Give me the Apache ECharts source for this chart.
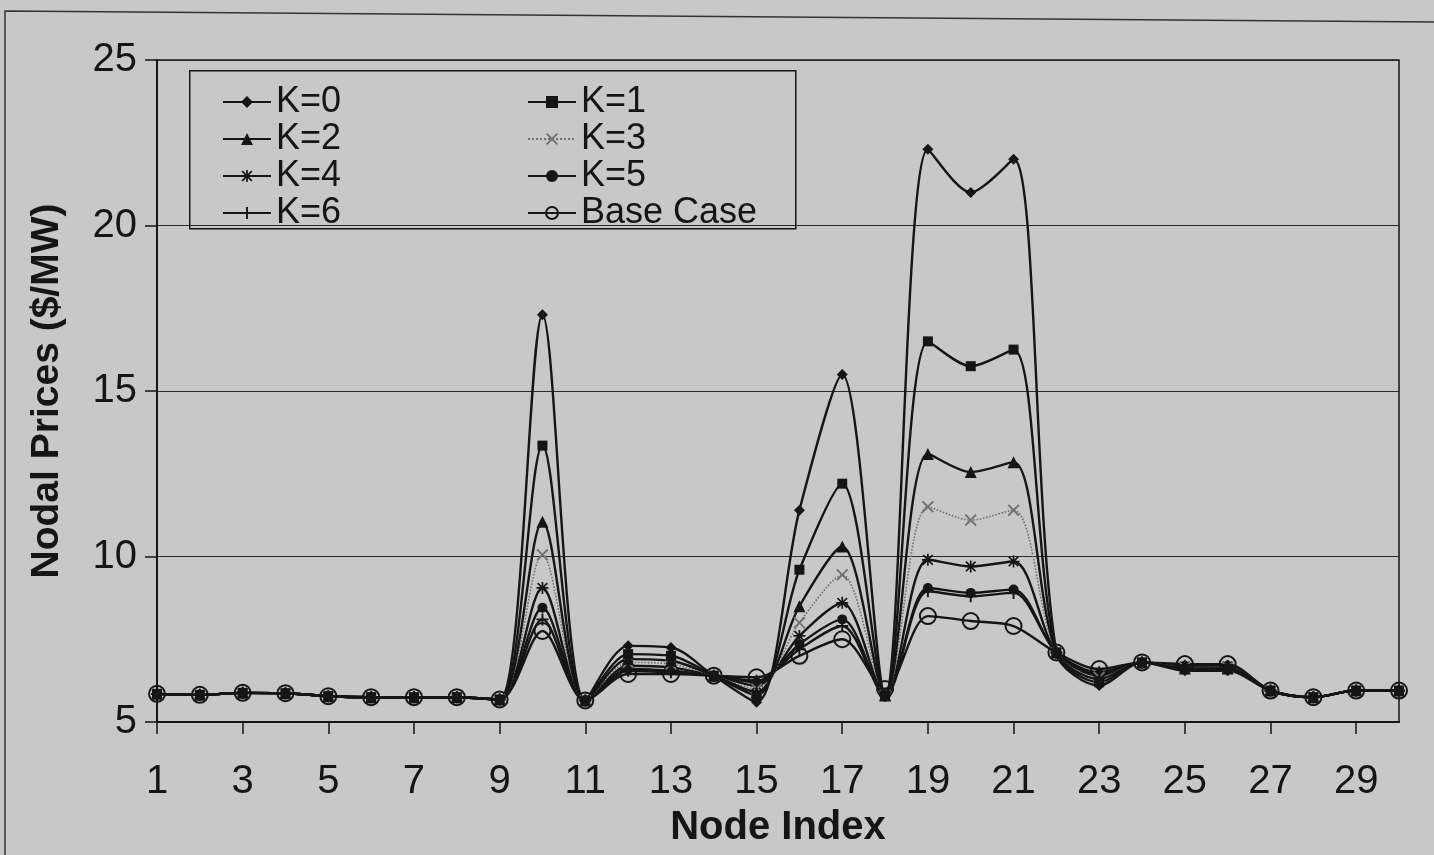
<!DOCTYPE html>
<html><head><meta charset="utf-8">
<script src="https://cdn.jsdelivr.net/npm/echarts@6/dist/echarts.min.js"></script>
<style>html,body{margin:0;padding:0;background:#c8c8c8;}#c{width:1434px;height:855px;}</style>
</head><body><div id="c"></div>
<script>
const nodes = ['1','2','3','4','5','6','7','8','9','10','11','12','13','14','15','16','17','18','19','20','21','22','23','24','25','26','27','28','29','30'];
const k0 = [5.85,5.82,5.88,5.87,5.78,5.75,5.75,5.75,5.68,17.3,5.65,7.3,7.25,6.4,5.6,11.4,15.5,5.8,22.3,21.0,22.0,7.1,6.1,6.8,6.55,6.55,5.95,5.75,5.95,5.95];
const k1 = [5.85,5.82,5.88,5.87,5.78,5.75,5.75,5.75,5.68,13.35,5.65,7.05,7.0,6.4,5.8,9.6,12.2,5.8,16.5,15.75,16.25,7.1,6.2,6.8,6.6,6.6,5.95,5.75,5.95,5.95];
const k2 = [5.85,5.82,5.88,5.87,5.78,5.75,5.75,5.75,5.68,11.05,5.65,6.9,6.85,6.4,5.9,8.5,10.3,5.8,13.1,12.55,12.85,7.1,6.3,6.8,6.62,6.62,5.95,5.75,5.95,5.95];
const k3 = [5.85,5.82,5.88,5.87,5.78,5.75,5.75,5.75,5.68,10.05,5.65,6.8,6.75,6.4,6.0,8.0,9.45,5.8,11.5,11.1,11.4,7.1,6.35,6.8,6.65,6.65,5.95,5.75,5.95,5.95];
const k4 = [5.85,5.82,5.88,5.87,5.78,5.75,5.75,5.75,5.68,9.05,5.65,6.7,6.65,6.4,6.1,7.6,8.6,5.8,9.9,9.7,9.85,7.1,6.4,6.8,6.68,6.68,5.95,5.75,5.95,5.95];
const k5 = [5.85,5.82,5.88,5.87,5.78,5.75,5.75,5.75,5.68,8.45,5.65,6.6,6.55,6.4,6.2,7.35,8.1,5.8,9.05,8.9,9.0,7.1,6.45,6.8,6.7,6.7,5.95,5.75,5.95,5.95];
const k6 = [5.85,5.82,5.88,5.87,5.78,5.75,5.75,5.75,5.68,8.1,5.65,6.55,6.5,6.4,6.25,7.2,7.9,5.8,8.95,8.8,8.9,7.1,6.5,6.8,6.7,6.7,5.95,5.75,5.95,5.95];
const base = [5.85,5.82,5.88,5.87,5.78,5.75,5.75,5.75,5.68,7.75,5.65,6.45,6.45,6.4,6.35,7.0,7.5,6.0,8.2,8.05,7.9,7.1,6.6,6.8,6.75,6.75,5.95,5.75,5.95,5.95];
const yTicks = [5,10,15,20,25];

const INK = '#151515';
const FONT = 'Liberation Sans';
const PLUS = 'path://M4.2,0H5.8V4.2H10V5.8H5.8V10H4.2V5.8H0V4.2H4.2Z';
const XMARK = 'path://M0,1.1L1.1,0L5,3.9L8.9,0L10,1.1L6.1,5L10,8.9L8.9,10L5,6.1L1.1,10L0,8.9L3.9,5Z';
const STAR = 'path://M4.3,0H5.7V4.3H10V5.7H5.7V10H4.3V5.7H0V4.3H4.3ZM0.5,1.5L1.5,0.5L5,4L8.5,0.5L9.5,1.5L6,5L9.5,8.5L8.5,9.5L5,6L1.5,9.5L0.5,8.5L4,5Z';

function mk(name, data, symbol, size, extra) {
  const s = {
    name: name, type: 'line', data: data, smooth: 0.3,
    symbol: symbol, symbolSize: size,
    lineStyle: { color: INK, width: 2.4 },
    itemStyle: { color: INK },
    emphasis: { disabled: true }
  };
  return Object.assign(s, extra || {});
}

const series = [
  mk('Base Case', base, 'circle', 16, { itemStyle: { color: 'rgba(0,0,0,0)', borderColor: INK, borderWidth: 2 } }),
  mk('K=6', k6, PLUS, 12),
  mk('K=5', k5, 'circle', 10),
  mk('K=4', k4, STAR, 12),
  mk('K=3', k3, XMARK, 12, { lineStyle: { color: '#707070', width: 1.6, type: 'dotted' }, itemStyle: { color: '#707070' } }),
  mk('K=2', k2, 'triangle', 12),
  mk('K=1', k1, 'rect', 10),
  mk('K=0', k0, 'diamond', 11)
];

const legendText = { fontFamily: FONT, fontSize: 36, color: INK, lineHeight: 34 };
const chart = echarts.init(document.getElementById('c'), null, { renderer: 'canvas' });
chart.setOption({
  backgroundColor: '#c8c8c8',
  animation: false,
  grid: { left: 157, right: 35, top: 60, bottom: 133, show: true, borderColor: INK, borderWidth: 1.5, backgroundColor: 'transparent' },
  legend: [
    { data: ['K=0','K=2','K=4','K=6'], orient: 'vertical', left: 222, top: 84, itemWidth: 48, itemHeight: 15, itemGap: 1, textStyle: legendText, padding: 0 },
    { data: ['K=1','K=3','K=5','Base Case'], orient: 'vertical', left: 527, top: 84, itemWidth: 48, itemHeight: 15, itemGap: 1, textStyle: legendText, padding: 0 }
  ],
  xAxis: {
    type: 'category', data: nodes, boundaryGap: false,
    name: 'Node Index', nameLocation: 'middle', nameGap: 86,
    nameTextStyle: { fontFamily: FONT, fontSize: 40, fontWeight: 'bold', color: INK },
    axisLine: { lineStyle: { color: INK, width: 2 } },
    axisTick: { show: true, interval: 1, length: 12, lineStyle: { color: INK, width: 1.5 } },
    axisLabel: { interval: 1, margin: 40, fontFamily: FONT, fontSize: 40, color: INK },
    splitLine: { show: false }
  },
  yAxis: {
    type: 'value', min: 5, max: 25, interval: 5,
    name: 'Nodal Prices ($/MW)', nameLocation: 'middle', nameGap: 90, nameRotate: 90,
    nameTextStyle: { fontFamily: FONT, fontSize: 39, fontWeight: 'bold', color: INK },
    axisLine: { show: true, lineStyle: { color: INK, width: 2 } },
    axisTick: { show: true, length: 12, lineStyle: { color: INK, width: 1.5 } },
    axisLabel: { margin: 20, fontFamily: FONT, fontSize: 40, color: INK,
      formatter: function (v) { return yTicks.indexOf(v) >= 0 ? String(v) : ''; } },
    splitLine: { show: true, lineStyle: { color: '#2a2a2a', width: 1.2 } }
  },
  graphic: [
    { type: 'rect', left: 189, top: 70, shape: { width: 606, height: 158 }, style: { fill: 'rgba(0,0,0,0)', stroke: INK, lineWidth: 1.5 }, z: 1 },
    { type: 'polyline', shape: { points: [[5, 855], [5, 11], [1434, 22]] }, style: { fill: null, stroke: '#333', lineWidth: 1.5 }, z: 1 }
  ],
  series: series
});
</script></body></html>
